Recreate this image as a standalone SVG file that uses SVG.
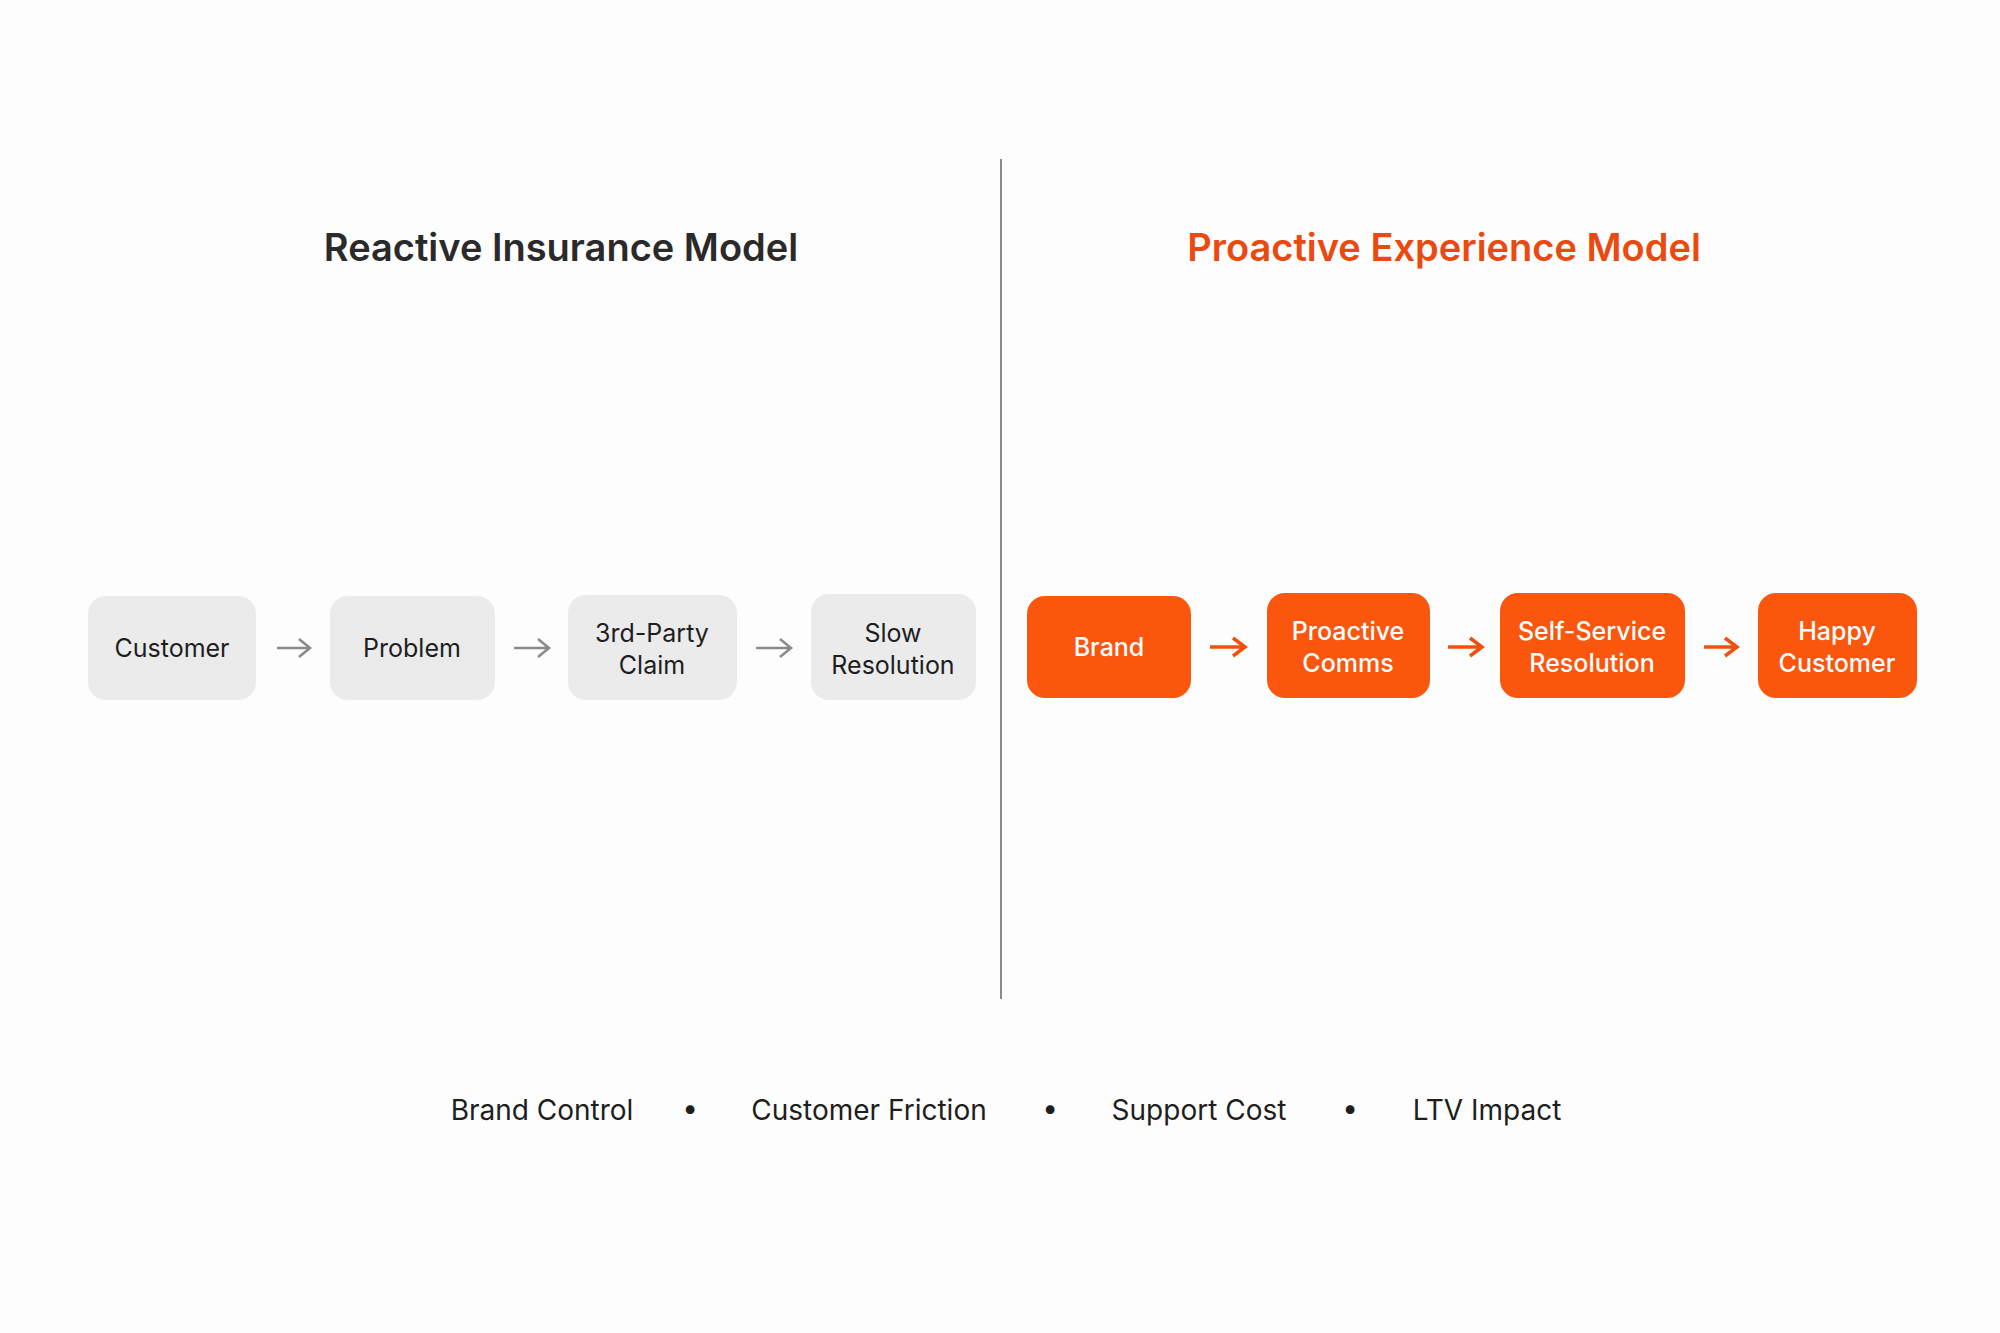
<svg xmlns="http://www.w3.org/2000/svg" width="2000" height="1333" viewBox="0 0 2000 1333">
<defs>
<style>
text{font-family:Inter,"Liberation Sans",sans-serif;text-anchor:middle}
.g rect{fill:#ebebeb}
.g text{fill:#1e1e1e;font-size:25px}
.o rect{fill:#fa560d}
.o text{fill:#fff;font-size:25px;font-weight:500}
.ag{stroke:#8a8a8a;stroke-width:2.5;fill:none}
.ao{stroke:#f2500f;stroke-width:3.5;fill:none}
.b{font-size:28px;fill:#1e1e1e}
</style>
</defs>
<rect width="2000" height="1333" fill="#fdfdfd"/>
<text x="561" y="261" font-size="38" font-weight="600" fill="#2a2a2a">Reactive Insurance Model</text>
<text x="1444" y="261" font-size="38" font-weight="600" fill="#ea4a10">Proactive Experience Model</text>
<line x1="1001" y1="159" x2="1001" y2="999" stroke="#8a8a8a" stroke-width="2"/>
<g id="customer" class="g"><rect x="88" y="596" width="168" height="104" rx="18"/><text x="172" y="657">Customer</text></g>
<g id="problem" class="g"><rect x="330" y="596" width="165" height="104" rx="18"/><text x="412" y="657">Problem</text></g>
<g id="claim" class="g"><rect x="568" y="595" width="169" height="105" rx="18"/><text x="652" y="642">3rd-Party</text><text x="652" y="674">Claim</text></g>
<g id="slow" class="g"><rect x="811" y="594" width="165" height="106" rx="18"/><text x="893" y="642">Slow</text><text x="893" y="674">Resolution</text></g>
<g id="brand" class="o"><rect x="1027" y="596" width="164" height="102" rx="18"/><text x="1109" y="656">Brand</text></g>
<g id="comms" class="o"><rect x="1267" y="593" width="163" height="105" rx="18"/><text x="1348" y="640">Proactive</text><text x="1348" y="672">Comms</text></g>
<g id="selfservice" class="o"><rect x="1500" y="593" width="185" height="105" rx="18"/><text x="1592" y="640">Self-Service</text><text x="1592" y="672">Resolution</text></g>
<g id="happy" class="o"><rect x="1758" y="593" width="159" height="105" rx="18"/><text x="1837" y="640">Happy</text><text x="1837" y="672">Customer</text></g>
<g id="connectors">
<path class="ag" d="M277 648H309M299 639L310 648L299 657"/>
<path class="ag" d="M514 648H548M538 639L549 648L538 657"/>
<path class="ag" d="M756 648H790M780 639L791 648L780 657"/>
<path class="ao" d="M1210 647H1244M1233 638L1245 647L1233 656"/>
<path class="ao" d="M1448 647H1481M1470 638L1482 647L1470 656"/>
<path class="ao" d="M1704 647H1736M1725 638L1737 647L1725 656"/>
</g>
<text class="b" x="542" y="1120">Brand Control</text>
<text class="b" x="690" y="1118">•</text>
<text class="b" x="869" y="1120">Customer Friction</text>
<text class="b" x="1050" y="1118">•</text>
<text class="b" x="1199" y="1120">Support Cost</text>
<text class="b" x="1350" y="1118">•</text>
<text class="b" x="1487" y="1120">LTV Impact</text>
</svg>
